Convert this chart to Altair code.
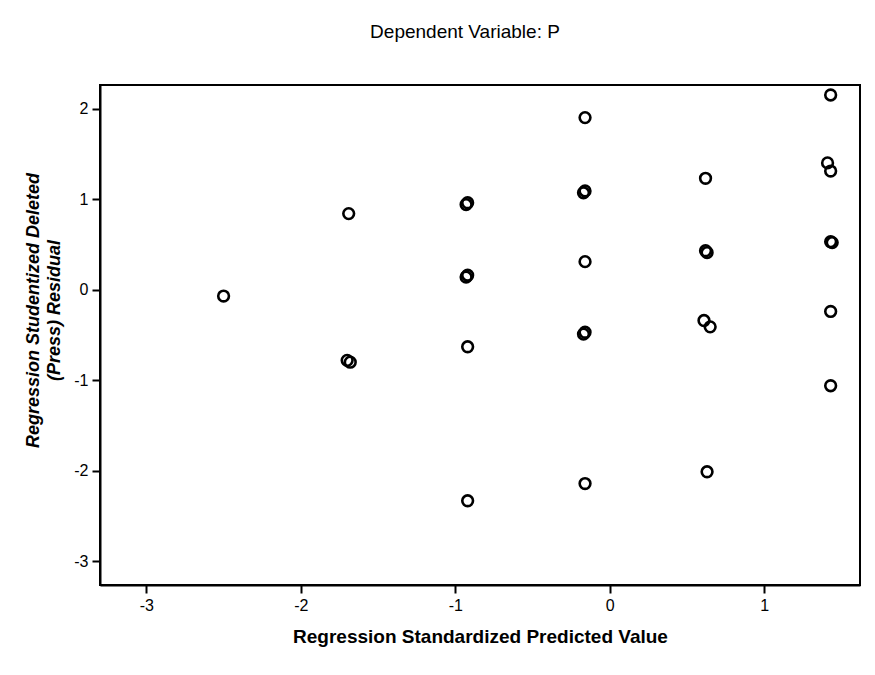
import altair as alt
import pandas as pd

# Column positions (Regression Standardized Predicted Value) and residuals
x_vals = [-2.50,
          -1.69, -1.70, -1.68,
          -0.92, -0.93, -0.92, -0.93, -0.92, -0.92,
          -0.16, -0.16, -0.17, -0.16, -0.16, -0.17, -0.16,
          0.62, 0.62, 0.63, 0.61, 0.65, 0.63,
          1.43, 1.41, 1.43, 1.43, 1.44, 1.43, 1.43]
y_vals = [-0.07,
          0.84, -0.78, -0.80,
          0.96, 0.94, 0.16, 0.14, -0.63, -2.33,
          1.90, 1.09, 1.07, 0.31, -0.47, -0.49, -2.14,
          1.23, 0.43, 0.41, -0.34, -0.41, -2.01,
          2.15, 1.40, 1.31, 0.53, 0.52, -0.24, -1.06]
x_ticks = [-3, -2, -1, 0, 1]
y_ticks = [-3, -2, -1, 0, 1, 2]

df = pd.DataFrame({"x": x_vals, "y": y_vals})

FONT = "Liberation Sans"

axis_style = dict(
    grid=False, domainColor="black", domainWidth=2, tickColor="black",
    tickSize=8, tickWidth=2, labelFont=FONT, labelFontSize=16, labelColor="black",
    titleFont=FONT, titleFontSize=19, titleFontWeight="bold", titleColor="black",
    labelPadding=4,
)

chart = alt.Chart(df).mark_point(
    shape="circle", filled=False, size=115, strokeWidth=2.6, color="black", opacity=1
).encode(
    x=alt.X("x:Q",
            scale=alt.Scale(domain=[-3.3, 1.62], nice=False, zero=False),
            axis=alt.Axis(title="Regression Standardized Predicted Value",
                          values=x_ticks, labelExpr="'' + datum.value",
                          titlePadding=14, **axis_style)),
    y=alt.Y("y:Q",
            scale=alt.Scale(domain=[-3.26, 2.26], nice=False, zero=False),
            axis=alt.Axis(title=["Regression Studentized Deleted", "(Press) Residual"],
                          values=y_ticks, labelExpr="'' + datum.value",
                          titlePadding=10, titleFontStyle="italic",
                          titleFontSize=18, titleLineHeight=21, titleY=225,
                          **{k: v for k, v in axis_style.items() if k != "titleFontSize"})),
).properties(
    width=760,
    height=500,
    background="white",
    title=alt.TitleParams("Dependent Variable: P", fontSize=19, font=FONT,
                          fontWeight="normal", color="black", offset=42, dx=-15),
    autosize=alt.AutoSizeParams(type="none"),
    padding={"left": 92, "top": 77, "right": 7, "bottom": 82},
).configure_view(
    stroke="black", strokeWidth=2
)

chart.save("out.html", embed_options={"renderer": "svg", "actions": False})
